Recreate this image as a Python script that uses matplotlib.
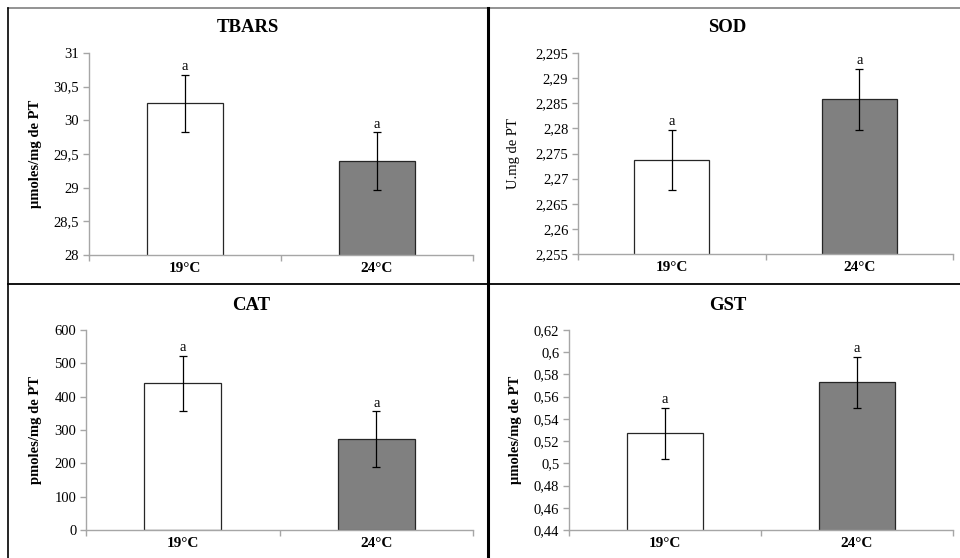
import numpy as np
import matplotlib
matplotlib.use("Agg")
import matplotlib.pyplot as plt
from matplotlib.lines import Line2D
from matplotlib.ticker import FixedLocator, FuncFormatter

plt.rcParams['font.family'] = ['Liberation Serif', 'DejaVu Serif']

# data
groups = ['19°C', '24°C']
bar_colors = ['white', '#808080']

tbars_mean = [30.25, 29.39]
tbars_err = [0.43, 0.43]
sod_mean = [2.2737, 2.2858]
sod_err = [0.0060, 0.0061]
cat_mean = [440, 272]
cat_err = [82, 84]
gst_mean = [0.527, 0.573]
gst_err = [0.023, 0.023]

W, H = 960, 558
fig = plt.figure(figsize=(W / 100, H / 100), dpi=100)


def px_axes(l, r, t, b):
    return [l / W, 1 - b / H, (r - l) / W, (b - t) / H]


def fmt(v, pos):
    s = ('%.3f' % v).rstrip('0').rstrip('.')
    return s.replace('.', ',')


panels = [
    # title, ylabel, bold label, means, errs, ylim, step, axes px, title px, ylabel px
    ('TBARS', 'µmoles/mg de PT', True, tbars_mean, tbars_err, (28, 31), 0.5,
     (89, 473, 53, 255), (248, 28), (36, 154)),
    ('SOD', 'U.mg de PT', False, sod_mean, sod_err, (2.255, 2.295), 0.005,
     (578, 953, 53, 254), (727, 28), (513, 154)),
    ('CAT', 'pmoles/mg de PT', True, cat_mean, cat_err, (0, 600), 100,
     (86, 473, 330, 530), (251, 305), (36, 430)),
    ('GST', 'µmoles/mg de PT', True, gst_mean, gst_err, (0.44, 0.62), 0.02,
     (569, 953, 330, 530), (728, 305), (516, 430)),
]

axis_gray = '#a6a6a6'

for title, ylab, bold, means, errs, ylim, step, box, tpos, lpos in panels:
    ax = fig.add_axes(px_axes(*box))
    x = np.arange(len(groups))
    ax.bar(x, means, width=0.4, color=bar_colors, edgecolor='#262626',
           linewidth=0.9, zorder=2)
    ax.errorbar(x, means, yerr=errs, fmt='none', ecolor='black',
                elinewidth=0.9, capsize=3, capthick=0.9, zorder=3)
    span = ylim[1] - ylim[0]
    for xi, m, e in zip(x, means, errs):
        ax.text(xi, m + e + span * 0.008, 'a', ha='center', va='bottom',
                fontsize=10.5)
    ax.set_xlim(-0.5, 1.5)
    ax.set_ylim(*ylim)
    n = int(round(span / step))
    ax.yaxis.set_major_locator(FixedLocator([ylim[0] + i * step for i in range(n + 1)]))
    ax.yaxis.set_major_formatter(FuncFormatter(fmt))
    ax.set_xticks(x)
    ax.set_xticklabels(groups, fontweight='bold', fontsize=11)
    ax.set_xticks([-0.5, 0.5, 1.5], minor=True)
    ax.tick_params(axis='x', which='major', length=0, pad=5)
    ax.tick_params(axis='x', which='minor', length=4, color=axis_gray, width=1)
    ax.tick_params(axis='y', length=4, color=axis_gray, width=1, labelsize=10.5,
                   pad=3)
    for s in ('top', 'right'):
        ax.spines[s].set_visible(False)
    for s in ('left', 'bottom'):
        ax.spines[s].set_color(axis_gray)
        ax.spines[s].set_linewidth(1)
    fig.text(tpos[0] / W, 1 - tpos[1] / H, title, ha='center', va='center',
             fontsize=13.5, fontweight='bold')
    fig.text(lpos[0] / W, 1 - lpos[1] / H, ylab, ha='center', va='center',
             rotation=90, fontsize=10.5, fontweight='bold' if bold else 'normal')

# panel frame lines
def line(x0, y0, x1, y1, color='black', lw=1.0):
    fig.add_artist(Line2D([x0 / W, x1 / W], [1 - y0 / H, 1 - y1 / H],
                          transform=fig.transFigure, color=color, linewidth=lw))

line(8, 8, 960, 8, color='#808080', lw=1.2)
line(8, 8, 8, 558, lw=1.2)
line(488, 8, 488, 558, lw=2.2)
line(8, 284, 960, 284, lw=1.3)

fig.savefig('out.png', dpi=100)
